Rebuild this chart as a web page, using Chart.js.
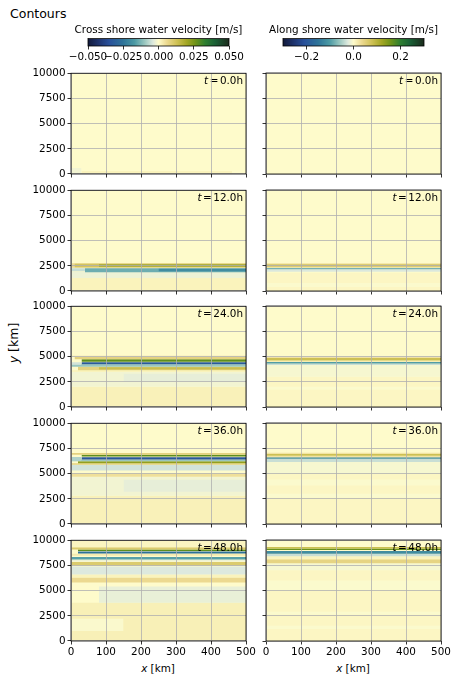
<!DOCTYPE html>
<html>
<head>
<meta charset="utf-8">
<script src="https://cdn.jsdelivr.net/npm/chart.js@4.4.1/dist/chart.umd.min.js"></script>
<style>
  body { margin: 0; background: #fff; width: 458px; height: 683px; position: relative; overflow: hidden;
         font-family: 'DejaVu Sans', sans-serif; color: #000; }
  canvas { position: absolute; }
  .lbl { position: absolute; white-space: nowrap; font-size: 10.4px; line-height: 1; }
</style>
</head>
<body>
<div class="lbl" style="left:10px;top:8px;font-size:12.5px">Contours</div>
<div class="lbl" style="left:14px;top:343px;font-size:12.5px;transform:translate(-50%,-50%) rotate(-90deg)"><i>y</i> [km]</div>
<div class="lbl" style="left:158px;top:668px;transform:translate(-50%,-50%)"><i>x</i> [km]</div>
<div class="lbl" style="left:353px;top:668px;transform:translate(-50%,-50%)"><i>x</i> [km]</div>

<script>
// --- dados ---
const times = [0, 12, 24, 36, 48];
const xTicks = [0, 100, 200, 300, 400, 500];
const yTicks = [0, 2500, 5000, 7500, 10000];
const crossTicks = [-0.05, -0.025, 0, 0.025, 0.05];
const alongTicks = [-0.2, 0, 0.2];
const crossMax = 0.05;
const alongMax = 0.3;

// faixas: [y0, y1, valor, x0, x1]
const cross0 = [
  [0, 300, 0.0015, 30, 460],
  [0, 600, -0.0015, 0, 30]
];
const cross12 = [
  [0, 1300, 0.0015, 0, 500],
  [1300, 1900, -0.002, 0, 500],
  [1950, 2250, -0.006, 0, 40],
  [1850, 2250, -0.014, 40, 500],
  [1950, 2200, -0.02, 250, 500],
  [2300, 2750, 0.006, 0, 500],
  [2350, 2700, 0.012, 10, 500],
  [2420, 2620, 0.022, 80, 500]
];
const cross24 = [
  [0, 2000, 0.0018, 0, 500],
  [2000, 3500, -0.0015, 0, 500],
  [2500, 3300, -0.0028, 150, 500],
  [3500, 3650, 0.002, 0, 500],
  [3650, 4000, 0.008, 20, 500],
  [3720, 3950, 0.014, 80, 500],
  [4000, 4250, -0.01, 0, 500],
  [4200, 4450, -0.005, 0, 30],
  [4250, 4450, -0.032, 30, 500],
  [4500, 4750, 0.028, 30, 500],
  [4750, 4950, 0.008, 10, 500],
  [4950, 5100, 0.002, 0, 500]
];
const cross36 = [
  [0, 2800, 0.0018, 0, 500],
  [2800, 4700, -0.0015, 0, 500],
  [3200, 4400, -0.0028, 150, 500],
  [4700, 5000, 0.005, 0, 500],
  [5300, 5880, -0.005, 0, 500],
  [5880, 6030, 0.008, 0, 500],
  [6030, 6230, 0.022, 20, 500],
  [6230, 6400, -0.01, 0, 500],
  [6250, 6650, -0.008, 0, 30],
  [6400, 6620, -0.033, 30, 500],
  [6700, 6880, 0.028, 30, 500],
  [6880, 7050, 0.008, 0, 500]
];
const cross48 = [
  [0, 3800, 0.002, 0, 500],
  [1000, 2200, -0.0005, 0, 150],
  [3800, 5400, -0.0025, 80, 500],
  [5800, 6300, 0.006, 0, 500],
  [6300, 6600, 0.0015, 0, 500],
  [6600, 7400, -0.004, 0, 500],
  [7500, 7850, 0.01, 0, 500],
  [7900, 8100, -0.002, 0, 500],
  [8100, 8330, -0.016, 0, 500],
  [8450, 8650, 0.003, 0, 500],
  [8680, 8880, -0.026, 20, 500],
  [8930, 9080, 0.028, 20, 500],
  [9080, 9300, 0.01, 0, 500],
  [9300, 10000, 0.001, 0, 500]
];

const along0 = [];
const along12 = [
  [0, 1800, 0.005, 0, 500],
  [400, 800, -0.002, 0, 500],
  [1900, 2150, -0.025, 0, 500],
  [2150, 2300, -0.08, 0, 500],
  [2300, 2750, 0.025, 0, 500],
  [2400, 2650, 0.07, 0, 500]
];
const along24 = [
  [0, 3000, 0.005, 0, 500],
  [1700, 2000, -0.002, 0, 500],
  [3000, 4150, -0.006, 0, 500],
  [4150, 4300, -0.035, 0, 500],
  [4300, 4450, -0.1, 0, 500],
  [4450, 4600, 0.015, 0, 500],
  [4600, 4850, 0.08, 0, 500],
  [4850, 4950, 0.025, 0, 500]
];
const along36 = [
  [0, 5000, 0.005, 0, 500],
  [2600, 3000, -0.002, 0, 500],
  [3800, 4400, -0.002, 0, 500],
  [5000, 6150, -0.006, 0, 500],
  [6150, 6450, -0.035, 0, 500],
  [6450, 6600, -0.12, 0, 500],
  [6600, 6750, 0.025, 0, 500],
  [6750, 6950, 0.08, 0, 500],
  [6950, 7050, 0.025, 0, 500]
];
const along48 = [
  [0, 7000, 0.005, 0, 500],
  [1200, 1500, -0.002, 0, 500],
  [2600, 2900, -0.002, 0, 500],
  [5000, 6000, -0.002, 0, 500],
  [7000, 7700, -0.006, 0, 500],
  [7700, 8100, 0.045, 0, 500],
  [8100, 8400, 0.008, 0, 500],
  [8400, 8650, -0.035, 0, 500],
  [8650, 8900, -0.12, 0, 500],
  [9000, 9150, 0.16, 0, 500],
  [9150, 9300, 0.08, 0, 500]
];

const crossBands = [cross0, cross12, cross24, cross36, cross48];
const alongBands = [along0, along12, along24, along36, along48];

// --- mapa de cores (aprox. cmocean delta) ---
const deltaStops = [
  [0, '#121a3a'], [0.08, '#1f3570'], [0.15, '#28509a'], [0.25, '#2e7499'], [0.33, '#4c9aa4'],
  [0.4, '#98c6bf'], [0.46, '#dde9de'], [0.5, '#fefbcb'], [0.56, '#ecd990'], [0.63, '#cfc155'],
  [0.7, '#a3a624'], [0.76, '#709418'], [0.83, '#2e7f30'], [0.9, '#1a6036'], [1, '#1b2a1c']
];

function hexRgb(h) {
  return [parseInt(h.substr(1, 2), 16), parseInt(h.substr(3, 2), 16), parseInt(h.substr(5, 2), 16)];
}

function cmap(t) {
  t = Math.max(0, Math.min(1, t));
  for (let i = 1; i < deltaStops.length; i++) {
    const [t1, c1] = deltaStops[i];
    const [t0, c0] = deltaStops[i - 1];
    if (t <= t1) {
      const f = (t - t0) / (t1 - t0);
      const a = hexRgb(c0), b = hexRgb(c1);
      const rgb = a.map((v, k) => Math.round(v + (b[k] - v) * f));
      return `rgb(${rgb.join(',')})`;
    }
  }
  return deltaStops[deltaStops.length - 1][1];
}

Chart.defaults.font.family = "'DejaVu Sans', sans-serif";
Chart.defaults.font.size = 10.4;
Chart.defaults.color = '#000';

// moldura preta (4 lados) como no matplotlib
const framePlugin = {
  id: 'frame',
  afterDraw(chart) {
    const a = chart.chartArea, ctx = chart.ctx;
    ctx.save();
    ctx.strokeStyle = '#000';
    ctx.lineWidth = 0.8;
    ctx.strokeRect(a.left, a.top, a.right - a.left, a.bottom - a.top);
    ctx.restore();
  }
};

// rótulo "t = 12.0h"
function timeLabelPlugin(t) {
  return {
    id: 'tlabel',
    afterDatasetsDraw(chart) {
      const a = chart.chartArea, ctx = chart.ctx;
      const parts = [
        ['italic 10.4px "DejaVu Sans"', 't', 1.5],
        ['10.4px "DejaVu Sans"', '=', 1.5],
        ['10.4px "DejaVu Sans"', t.toFixed(1) + 'h', 0]
      ];
      ctx.save();
      let total = 0;
      parts.forEach(p => { ctx.font = p[0]; total += ctx.measureText(p[1]).width + p[2]; });
      let x = a.right - 3 - total;
      ctx.fillStyle = '#000';
      ctx.textBaseline = 'middle';
      parts.forEach(p => {
        ctx.font = p[0];
        ctx.fillText(p[1], x, a.top + 8);
        x += ctx.measureText(p[1]).width + p[2];
      });
      ctx.restore();
    }
  };
}

function bandDatasets(bands, vmax) {
  const all = [[0, 10000, 0, 0, 500]].concat(bands);
  return all.map((b, i) => ({
    data: [{ x: b[3], y: b[1] }, { x: b[4], y: b[1] }],
    fill: { value: b[0] },
    backgroundColor: cmap(0.5 + 0.5 * b[2] / vmax),
    borderColor: 'rgba(0,0,0,0)',
    borderWidth: 0,
    pointRadius: 0,
    order: -i
  }));
}

const ROW_TOP = [73, 190, 306, 423, 540];
const PANEL_H = 101;
const PANEL_W = 175;

function makePanel(col, row) {
  const last = row === times.length - 1;
  const yW = col === 0 ? 71 : 11;
  const xH = last ? 22 : 12;
  const left = col === 0 ? 0 : 255;
  const w = yW + PANEL_W + 12;
  const h = 8 + PANEL_H + xH;
  const cv = document.createElement('canvas');
  cv.width = w; cv.height = h;
  cv.style.left = left + 'px';
  cv.style.top = (ROW_TOP[row] - 8) + 'px';
  cv.style.width = w + 'px'; cv.style.height = h + 'px';
  document.body.appendChild(cv);

  const bands = col === 0 ? crossBands[row] : alongBands[row];
  const vmax = col === 0 ? crossMax : alongMax;
  const gridOpts = { color: '#b0b0b0', lineWidth: 0.8, tickColor: '#000', tickLength: 3.5, tickWidth: 0.8, z: 1 };

  new Chart(cv, {
    type: 'line',
    data: { datasets: bandDatasets(bands, vmax) },
    options: {
      responsive: false,
      animation: false,
      layout: { padding: { top: 8, right: 12, bottom: 0, left: 0 } },
      plugins: { legend: { display: false }, tooltip: { enabled: false } },
      scales: {
        x: {
          type: 'linear', min: 0, max: 500,
          afterBuildTicks: s => { s.ticks = xTicks.map(v => ({ value: v })); },
          afterFit: s => { s.height = xH; },
          grid: gridOpts,
          border: { display: false },
          ticks: { display: last, maxRotation: 0, autoSkip: false, padding: 2, z: 1, callback: v => String(v) }
        },
        y: {
          type: 'linear', min: 0, max: 10000,
          afterBuildTicks: s => { s.ticks = yTicks.map(v => ({ value: v })); },
          afterFit: s => { s.width = yW; },
          grid: gridOpts,
          border: { display: false },
          ticks: { display: col === 0, autoSkip: false, padding: 2, z: 1, callback: v => String(v) }
        }
      }
    },
    plugins: [framePlugin, timeLabelPlugin(times[row])]
  });
}

function makeColorbar(left, title, vmax, ticks, decimals) {
  const side = 40;
  const cv = document.createElement('canvas');
  const w = 141 + 2 * side, h = 40;
  cv.width = w; cv.height = h;
  cv.style.left = (left - side) + 'px'; cv.style.top = '24px';
  cv.style.width = w + 'px'; cv.style.height = h + 'px';
  document.body.appendChild(cv);

  const spacer = pos => ({
    type: 'linear', position: pos, display: true, min: 0, max: 1,
    ticks: { display: false }, grid: { display: false }, border: { display: false },
    afterFit: s => { s.width = side; }
  });

  new Chart(cv, {
    type: 'line',
    data: {
      datasets: [{
        data: [{ x: -vmax, y: 1 }, { x: vmax, y: 1 }],
        fill: { value: 0 },
        borderWidth: 0,
        borderColor: 'rgba(0,0,0,0)',
        pointRadius: 0,
        backgroundColor: c => {
          const a = c.chart.chartArea;
          if (!a) return '#fefbcb';
          const g = c.chart.ctx.createLinearGradient(a.left, 0, a.right, 0);
          deltaStops.forEach(s => g.addColorStop(s[0], s[1]));
          return g;
        }
      }]
    },
    options: {
      responsive: false,
      animation: false,
      layout: { padding: 0 },
      plugins: {
        legend: { display: false },
        tooltip: { enabled: false },
        title: { display: true, text: title, font: { size: 10.4, weight: 'normal' }, padding: { top: 0, bottom: 2 }, color: '#000' }
      },
      scales: {
        x: {
          type: 'linear', min: -vmax, max: vmax,
          afterBuildTicks: s => { s.ticks = ticks.map(v => ({ value: v })); },
          afterFit: s => { s.height = 18; },
          grid: { drawOnChartArea: false, tickColor: '#000', tickLength: 3.5, tickWidth: 0.8 },
          border: { display: false },
          ticks: {
            maxRotation: 0, autoSkip: false, padding: 2,
            callback: v => (v < 0 ? '\u2212' : '') + Math.abs(v).toFixed(decimals)
          }
        },
        y: spacer('left'),
        yr: spacer('right')
      }
    },
    plugins: [framePlugin]
  });
}

makeColorbar(88, 'Cross shore water velocity [m/s]', crossMax, crossTicks, 3);
makeColorbar(283, 'Along shore water velocity [m/s]', alongMax, alongTicks, 1);

for (let r = 0; r < times.length; r++) {
  makePanel(0, r);
  makePanel(1, r);
}
</script>
</body>
</html>
